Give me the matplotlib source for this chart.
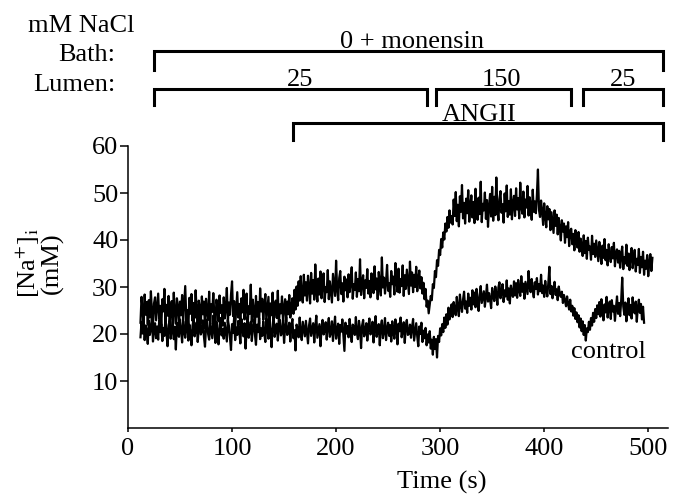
import numpy as np
import matplotlib
matplotlib.use('Agg')
import matplotlib.pyplot as plt
import matplotlib.transforms as mtransforms

plt.rcParams['font.family'] = ['Liberation Serif', 'DejaVu Serif']
plt.rcParams['mathtext.fontset'] = 'stix'

# sample times (s), one reading every second
t_step = 1
angii_t0 = 12
control_t0 = 12

# [Na+]i (mM) with ANGII, t = 12 ... 504 s
angii = [
    22.4, 27.9, 25.3, 21.6, 28.4, 24.1, 26.8, 22.0, 27.2, 23.5, 29.1, 24.6, 21.8, 26.5, 27.8, 22.9, 25.7, 28.6, 23.2, 26.0,
    21.5, 27.4, 24.8, 29.6, 22.6, 26.2, 23.9, 28.1, 21.9, 25.4, 27.0, 23.1, 28.8, 24.4, 22.2, 27.6, 25.9, 21.7, 26.9, 24.0,
    28.3, 22.5, 26.4, 30.2, 23.7, 25.1, 21.4, 27.7, 24.3, 28.5, 22.8, 26.6, 23.4, 29.3, 24.9, 21.9, 27.1, 25.6, 22.3, 28.0,
    24.2, 26.9, 21.2, 27.5, 25.0, 23.0, 29.0, 22.1, 26.3, 24.7, 28.7, 23.6, 21.5, 27.3, 25.8, 22.7, 28.2, 24.5, 26.1, 21.8,
    27.8, 23.3, 25.5, 29.8, 22.4, 26.7, 24.1, 28.4, 31.2, 23.8, 27.0, 21.6, 25.2, 28.9, 23.5, 26.4, 22.0, 27.6, 24.6, 29.4,
    23.1, 26.2, 28.6, 21.7, 25.9, 24.3, 30.5, 22.6, 27.3, 25.0, 21.3, 28.1, 23.7, 26.8, 22.2, 29.7, 24.8, 27.5, 23.0, 26.0,
    28.5, 22.9, 25.4, 27.9, 21.4, 26.5, 24.0, 28.8, 22.5, 25.7, 27.1, 23.4, 29.2, 21.9, 26.3, 24.4, 28.0, 22.8, 25.6, 27.4,
    22.6, 26.9, 24.2, 28.3, 23.5, 25.8, 27.6, 24.3, 29.4, 25.2, 30.1, 26.0, 31.2, 27.1, 32.3, 28.0, 26.7, 32.6, 28.2, 31.0,
    27.1, 32.4, 29.9, 26.5, 33.0, 28.6, 31.5, 27.3, 34.8, 29.2, 26.9, 31.8, 28.4, 33.3, 27.6, 30.7, 32.9, 26.8, 30.0, 28.9,
    33.6, 27.4, 31.2, 29.0, 26.7, 32.8, 30.4, 28.1, 35.6, 29.6, 27.2, 31.9, 33.4, 28.5, 30.8, 26.9, 32.2, 29.3, 31.6, 27.8,
    32.7, 28.9, 31.0, 34.2, 27.5, 30.6, 29.4, 33.1, 27.9, 31.7, 29.1, 35.9, 28.3, 30.9, 32.5, 27.6, 31.4, 29.8, 33.8, 28.6,
    31.3, 27.8, 32.9, 30.1, 28.7, 34.4, 29.5, 31.8, 27.4, 33.2, 30.4, 28.2, 36.3, 29.9, 32.0, 28.6, 31.1, 34.7, 29.2, 30.8,
    27.9, 33.4, 30.6, 32.2, 28.4, 35.1, 31.3, 29.0, 33.9, 28.8, 31.7, 30.2, 34.6, 28.1, 32.5, 29.6, 33.7, 31.0, 28.5, 35.4,
    30.3, 33.1, 28.9, 32.6, 30.0, 34.3, 29.1, 31.8, 33.5, 29.7, 32.1, 28.6, 30.9, 27.4, 29.6, 25.8, 27.1, 24.4, 26.3, 28.1,
    27.2, 30.6, 29.8, 33.4, 32.1, 35.7, 34.5, 37.9, 36.8, 40.2, 38.4, 41.6, 40.1, 43.5, 41.8, 44.9, 42.6, 46.3, 43.7, 45.1,
    43.3, 48.6, 45.1, 50.2, 44.0, 47.5, 42.9, 49.3, 46.0, 51.7, 44.6, 47.9, 43.5, 48.8, 45.7, 50.6, 43.9, 47.2, 49.5, 44.8,
    48.1, 43.6, 50.9, 46.2, 44.3, 49.0, 45.5, 52.4, 43.8, 47.7, 46.3, 50.1, 44.5, 48.5, 42.8, 47.1, 49.8, 45.0, 51.3, 44.1,
    49.2, 45.3, 53.3, 46.6, 44.2, 48.7, 50.4, 45.8, 47.6, 43.7, 49.9, 46.1, 51.6, 44.9, 48.3, 45.4, 50.8, 44.4, 47.8, 49.4,
    45.1, 51.0, 46.5, 48.9, 44.6, 52.2, 47.0, 45.6, 50.3, 44.8, 48.6, 46.9, 51.5, 45.2, 49.1, 47.4, 44.3, 50.7, 46.0, 48.2,
    45.7, 49.6, 55.0, 46.4, 44.9, 48.4, 46.1, 43.2, 47.8, 45.0, 42.7, 47.2, 44.4, 46.6, 42.1, 45.9, 43.6, 41.5, 46.3, 43.0,
    45.4, 41.2, 44.7, 42.5, 39.9, 44.2, 41.8, 43.5, 39.4, 42.9, 40.6, 43.8, 38.7, 41.9, 42.4, 39.1, 41.3, 37.8, 42.1, 39.6,
    38.4, 41.7, 37.5, 40.3, 38.9, 36.6, 41.0, 37.2, 39.8, 36.0, 40.5, 37.9, 38.6, 35.8, 40.9, 37.0, 39.2, 36.4, 39.9, 37.6,
    35.5, 39.6, 37.4, 34.9, 38.8, 36.2, 40.2, 35.7, 37.9, 34.6, 39.1, 36.8, 35.3, 38.5, 36.1, 39.4, 34.4, 37.3, 38.0, 35.2,
    37.7, 34.1, 36.9, 38.6, 33.8, 36.3, 35.0, 39.0, 34.5, 37.1, 33.6, 36.6, 38.3, 34.0, 35.8, 37.9, 33.3, 36.0, 34.7, 38.1,
    33.0, 36.4, 34.2, 37.5, 32.6, 35.6, 33.9, 36.8, 32.3, 35.1, 37.0, 33.4, 36.2,
]

# [Na+]i (mM) control, t = 12 ... 496 s
control = [
    19.3, 22.6, 20.1, 23.4, 18.7, 21.8, 20.5, 17.9, 22.9, 19.8, 21.2, 23.7, 18.4, 20.9, 22.3, 19.1, 21.6, 18.8, 23.0, 20.4,
    22.1, 18.5, 21.3, 19.6, 23.5, 20.2, 17.4, 21.9, 22.8, 19.0, 20.7, 23.2, 18.9, 21.5, 16.7, 22.4, 20.0, 19.4, 23.1, 21.0,
    18.2, 22.7, 20.6, 19.2, 23.8, 21.4, 18.6, 22.0, 20.3, 17.6, 21.7, 23.3, 19.5, 20.8, 22.5, 18.3, 21.1, 23.6, 19.9, 20.6,
    22.9, 19.4, 17.3, 21.6, 23.1, 20.0, 18.8, 22.2, 20.7, 19.1, 23.9, 21.3, 18.1, 22.6, 20.4, 17.8, 21.8, 23.4, 19.7, 21.0,
    19.0, 22.4, 20.5, 18.4, 23.0, 21.7, 19.3, 16.6, 22.1, 20.2, 23.5, 18.7, 21.4, 19.8, 22.8, 20.6, 18.0, 23.2, 21.1, 19.5,
    22.3, 16.9, 21.0, 23.7, 19.2, 20.8, 22.6, 18.5, 21.5, 23.1, 19.9, 17.7, 22.0, 20.4, 23.4, 18.9, 21.2, 19.6, 22.7, 20.1,
    18.3, 23.3, 21.4, 19.0, 22.5, 20.6, 17.2, 21.9, 23.8, 19.4, 20.9, 22.2, 18.6, 21.6, 23.0, 19.7, 20.3, 22.9, 18.1, 21.3,
    23.6, 19.8, 20.5, 22.4, 18.4, 21.7, 23.2, 19.1, 20.8, 16.5, 22.0, 21.1, 19.3, 23.5, 20.2, 18.7, 22.6, 21.0, 19.5, 22.8,
    20.4, 18.0, 21.8, 23.3, 19.6, 20.9, 22.3, 18.2, 21.5, 23.9, 19.2, 20.6, 22.1, 17.4, 21.2, 23.0, 19.9, 20.7, 22.5, 18.8,
    21.6, 23.4, 19.4, 20.3, 22.7, 18.5, 21.3, 23.7, 19.0, 20.8, 22.2, 17.9, 21.9, 20.5, 23.1, 19.7, 16.4, 22.4, 20.1, 21.7,
    19.3, 23.2, 20.6, 18.3, 22.0, 21.4, 19.8, 23.6, 20.2, 18.9, 22.8, 21.1, 17.0, 21.8, 23.0, 19.5, 20.7, 22.3, 18.6, 21.5,
    23.3, 19.9, 20.4, 22.6, 18.2, 21.2, 23.8, 19.4, 20.9, 22.1, 17.6, 21.6, 22.9, 19.1, 20.5, 23.4, 18.7, 21.0, 22.4, 19.6,
    21.9, 18.4, 22.7, 20.3, 19.0, 23.1, 21.3, 17.8, 22.2, 20.6, 23.5, 19.3, 20.8, 22.5, 18.1, 21.7, 23.0, 19.8, 20.1, 22.0,
    19.2, 21.4, 23.2, 18.6, 20.5, 22.3, 19.5, 17.4, 21.6, 20.0, 22.4, 18.3, 20.7, 19.1, 21.3, 17.6, 19.9, 18.2, 20.6, 16.9,
    18.8, 15.6, 19.4, 16.8, 18.9, 15.0, 19.6, 18.3, 21.2, 19.7, 22.1, 20.4, 23.5, 21.3, 24.2, 22.0, 25.6, 23.1, 24.9, 26.3,
    23.6, 26.8, 25.1, 24.0, 27.9, 25.5, 23.8, 28.4, 26.2, 24.7, 27.3, 29.0, 25.4, 26.9, 24.5, 28.6, 26.0, 27.7, 25.2, 29.3,
    26.3, 28.8, 25.7, 29.6, 27.1, 24.9, 28.3, 30.2, 26.6, 27.8, 29.1, 25.8, 28.0, 30.5, 26.9, 28.7, 27.4, 25.5, 29.8, 28.1,
    27.0, 30.1, 28.4, 26.2, 29.9, 31.0, 27.6, 28.9, 30.6, 26.8, 29.3, 28.0, 31.4, 27.3, 29.7, 26.5, 30.3, 28.6, 27.9, 31.2,
    28.2, 30.8, 27.7, 31.5, 29.4, 28.1, 32.3, 29.0, 30.7, 27.5, 31.1, 29.8, 28.5, 33.4, 30.0, 28.9, 31.7, 29.3, 27.8, 31.0,
    29.6, 31.9, 28.4, 30.6, 29.1, 32.6, 28.7, 30.3, 27.9, 31.3, 29.2, 28.0, 30.9, 34.3, 28.5, 30.2, 27.6, 29.8, 31.1, 28.3,
    29.5, 27.2, 30.1, 28.6, 27.9, 29.0, 26.6, 28.3, 27.1, 25.9, 28.0, 26.4, 25.2, 27.3, 24.8, 26.0, 23.9, 25.5, 23.2, 24.6,
    22.5, 24.0, 21.4, 23.3, 20.6, 22.7, 19.8, 21.9, 18.6, 21.2, 20.4, 22.6, 20.9, 23.4, 21.8, 24.5, 22.6, 25.3, 23.4, 26.1,
    24.2, 26.8, 23.7, 27.4, 25.0, 22.9, 26.3, 24.6, 27.9, 23.5, 25.8, 26.9, 23.2, 27.2, 24.8, 26.0, 22.8, 25.6, 28.0, 24.3,
    26.6, 23.8, 27.1, 32.0, 25.9, 24.1, 26.7, 22.7, 25.4, 27.6, 24.0, 26.2, 23.3, 27.8, 25.1, 24.4, 26.9, 22.6, 25.7, 27.3,
    24.5, 26.4, 23.1, 25.8, 22.4,
]

# solution periods (s): (start, end, label)
bath_periods = [(25, 514, '0 + monensin')]
lumen_periods = [(25, 287.5, '25'), (296, 426, '150'), (437.5, 514, '25')]
angii_periods = [(158.6, 514, 'ANGII')]

x_ticks = [0, 100, 200, 300, 400, 500]
y_ticks = [10, 20, 30, 40, 50, 60]

W, H = 683, 496
fig = plt.figure(figsize=(W / 100, H / 100), dpi=100)
ax = fig.add_axes([128 / W, 1 - 428 / H, 540 / W, 282 / H])

t_angii = angii_t0 + t_step * np.arange(len(angii))
t_control = control_t0 + t_step * np.arange(len(control))
ax.plot(t_angii, angii, color='black', lw=1.6)
ax.plot(t_control, control, color='black', lw=1.6)

ax.set_xlim(0, 519)
ax.set_ylim(0, 60)
ax.set_xticks(x_ticks)
ax.set_yticks(y_ticks)
for s in ['top', 'right']:
    ax.spines[s].set_visible(False)
for s in ['left', 'bottom']:
    ax.spines[s].set_linewidth(1.1)
ax.tick_params(axis='y', direction='out', length=6, width=1.1, pad=1, labelsize=19)
ax.tick_params(axis='x', direction='out', length=3, width=1.1, pad=4, labelsize=19)

ax.text(461.5, 16.2, 'control', fontsize=19, ha='center', va='center')

fig.text(442 / W, 1 - 482 / H, 'Time (s)', fontsize=19, ha='center', va='center')
fig.text(28 / W, 1 - 263 / H, r'[Na$^{+}$]$_{\mathrm{i}}$', fontsize=19,
         rotation=90, ha='center', va='center')
fig.text(52 / W, 1 - 263 / H, '(mM)', fontsize=19, rotation=90, ha='center', va='center')

# left-hand labels
fig.text(28 / W, 1 - 32 / H, 'mM NaCl', fontsize=19, ha='left', va='baseline')
fig.text(115 / W, 1 - 60.7 / H, 'Bath:', fontsize=19, ha='right', va='baseline')
fig.text(115 / W, 1 - 90.7 / H, 'Lumen:', fontsize=19, ha='right', va='baseline')

# brackets above the plot: x in data, y in figure pixels
trans = mtransforms.blended_transform_factory(ax.transData, fig.transFigure)


def bracket(x0, x1, y_line, y_leg, label, label_x, label_base):
    yl = 1 - y_line / H
    yb = 1 - y_leg / H
    ax.plot([x0, x0, x1, x1], [yb, yl, yl, yb], color='black', lw=2.2,
            transform=trans, clip_on=False, solid_joinstyle='miter')
    ax.text(label_x, 1 - label_base / H, label, fontsize=19, ha='center',
            va='baseline', transform=trans)


bath_label_x = [273]
lumen_label_x = [165, 359, 476]
angii_label_x = [337.5]

for (x0, x1, lab), lx in zip(bath_periods, bath_label_x):
    bracket(x0, x1, 50.7, 70, lab, lx, 48)
for (x0, x1, lab), lx in zip(lumen_periods, lumen_label_x):
    bracket(x0, x1, 89, 105, lab, lx, 86)
for (x0, x1, lab), lx in zip(angii_periods, angii_label_x):
    bracket(x0, x1, 123, 140, lab, lx, 121)

fig.savefig('out.png', dpi=100)
